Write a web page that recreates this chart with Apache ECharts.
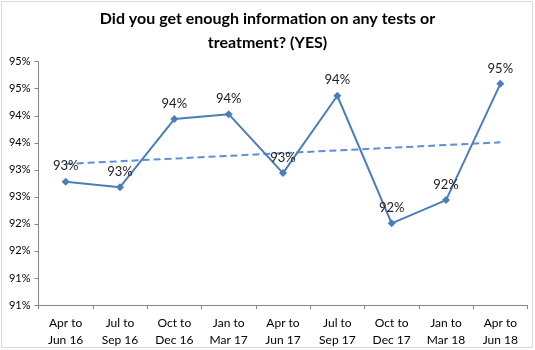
<!DOCTYPE html>
<html>
<head>
<meta charset="utf-8">
<script src="https://cdn.jsdelivr.net/npm/echarts@6/dist/echarts.min.js"></script>
<style>
  html, body { margin: 0; padding: 0; background: #fff; }
  #chart { width: 535px; height: 350px; }
</style>
</head>
<body>
<div id="chart"></div>
<script>
// Quarterly survey results: share of patients answering YES (%)
const categories = [
  'Apr to\nJun 16', 'Jul to\nSep 16', 'Oct to\nDec 16', 'Jan to\nMar 17',
  'Apr to\nJun 17', 'Jul to\nSep 17', 'Oct to\nDec 17', 'Jan to\nMar 18', 'Apr to\nJun 18'
];
const yesValues = [92.78, 92.68, 93.94, 94.03, 92.94, 94.37, 92.01, 92.44, 94.59];

// Value axis range and step
const yMin = 90.5;
const yMax = 95;
const yStep = 0.5;

// Least-squares linear trend through the quarterly values
function linearTrend(vals) {
  const n = vals.length;
  const mx = (n - 1) / 2;
  const my = vals.reduce((a, b) => a + b, 0) / n;
  let sxy = 0, sxx = 0;
  vals.forEach((v, i) => { sxy += (i - mx) * (v - my); sxx += (i - mx) * (i - mx); });
  const slope = sxy / sxx;
  return vals.map((_, i) => my + slope * (i - mx));
}
const trendValues = linearTrend(yesValues);

const font = 'Lato, "Open Sans", "Liberation Sans", sans-serif';
const chart = echarts.init(document.getElementById('chart'), null, { renderer: 'canvas' });

chart.setOption({
  animation: false,
  backgroundColor: '#fff',
  graphic: [{
    type: 'rect',
    shape: { x: 1.5, y: 1.5, width: 531, height: 346 },
    style: { fill: 'none', stroke: '#d9d9d9', lineWidth: 1 },
    silent: true
  }],
  title: {
    text: 'Did you get enough information on any tests or\ntreatment? (YES)',
    left: 'center',
    top: 2,
    textStyle: {
      fontFamily: font, fontWeight: 'bold', fontSize: 16,
      color: '#000', lineHeight: 24
    }
  },
  grid: { left: 38.5, right: 7.5, top: 61.7, bottom: 45, containLabel: false },
  xAxis: {
    type: 'category',
    data: categories,
    boundaryGap: true,
    axisLine: { lineStyle: { color: '#868686', width: 1 } },
    axisTick: { show: true, interval: 0, length: 4, lineStyle: { color: '#868686' } },
    axisLabel: {
      interval: 0, margin: 10, color: '#000',
      fontFamily: font, fontSize: 12, lineHeight: 17
    },
    splitLine: { show: false }
  },
  yAxis: {
    type: 'value',
    min: yMin, max: yMax, interval: yStep,
    axisLine: { show: true, lineStyle: { color: '#868686', width: 1 } },
    axisTick: { show: true, length: 4, lineStyle: { color: '#868686' } },
    axisLabel: {
      color: '#000', fontFamily: font, fontSize: 11, margin: 8,
      formatter: v => Math.round(v) + '%'
    },
    splitLine: { show: false }
  },
  series: [
    {
      name: 'Trend',
      type: 'line',
      data: trendValues,
      symbol: 'none',
      z: 1,
      lineStyle: { color: '#5b8fd6', width: 2, type: [7, 4] },
      silent: true
    },
    {
      name: 'YES',
      type: 'line',
      data: yesValues,
      z: 2,
      symbol: 'diamond',
      symbolSize: 8,
      itemStyle: { color: '#4a7ebb' },
      lineStyle: { color: '#4a7ebb', width: 2 },
      label: {
        show: true,
        position: 'top',
        distance: 5,
        color: '#222',
        fontFamily: font,
        fontSize: 13,
        formatter: p => Math.round(p.value) + '%'
      }
    }
  ]
});
</script>
</body>
</html>
